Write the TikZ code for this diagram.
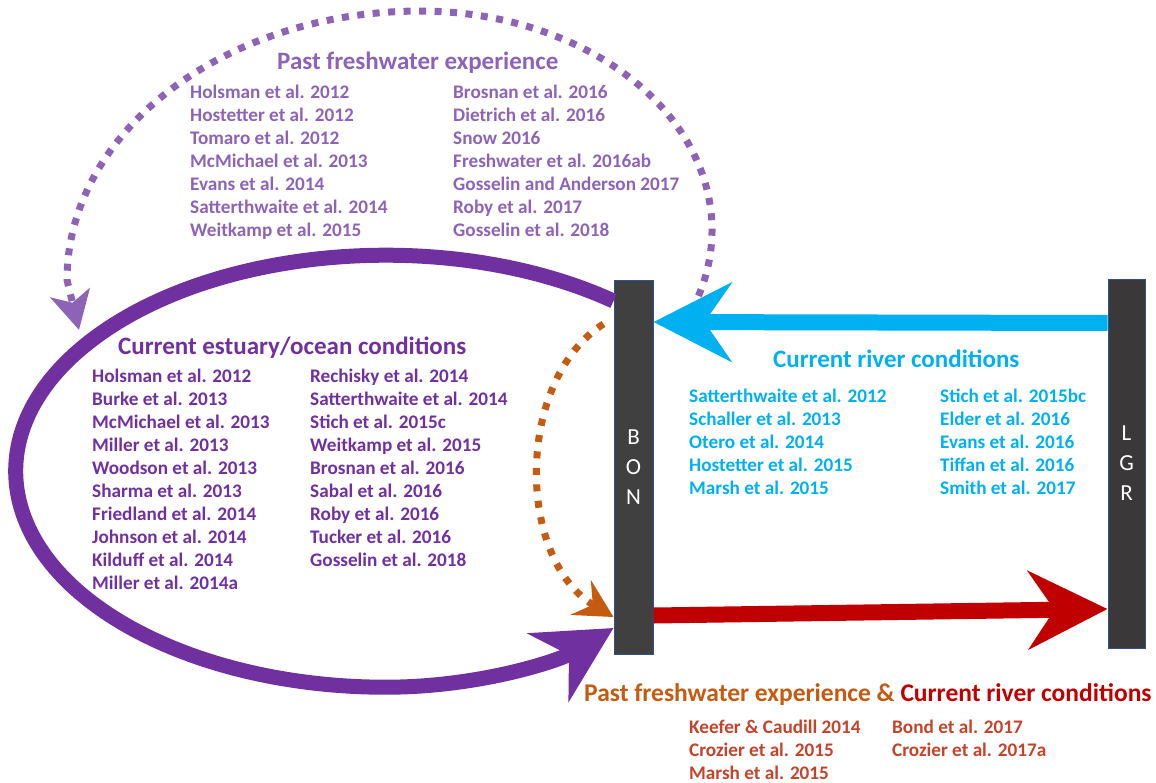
\documentclass[tikz,border=0pt]{standalone}
\usepackage{fontspec}
\setmainfont{Carlito}
\usepackage{tikz}
\usetikzlibrary{arrows.meta}
\definecolor{pastpurple}{HTML}{8D63B7}
\definecolor{seapurple}{HTML}{7030A0}
\definecolor{riverblue}{HTML}{00B0F0}
\definecolor{pastorange}{HTML}{C55A11}
\definecolor{riverred}{HTML}{C00000}
\definecolor{bothred}{HTML}{C4432A}
\definecolor{damgray}{HTML}{404040}
\definecolor{lgrgray}{HTML}{3A3838}
\definecolor{damedge}{HTML}{2F528F}
\def\reffont{\fontsize{19.2}{23}\selectfont\bfseries}
\def\headfont{\fontsize{25}{30}\selectfont\bfseries}
\def\damfont{\fontsize{23}{30}\selectfont}
\tikzstyle{dam}=[rectangle,draw=damedge,fill=damgray,line width=1pt,text=white,align=center,inner sep=0pt,font=\damfont]
\tikzstyle{reflist}=[anchor=north west,align=left,inner sep=0pt,font=\reffont]
\tikzstyle{heading}=[anchor=base west,inner sep=0pt,font=\headfont]
\tikzstyle{pastdots}=[draw=pastpurple,line width=7pt,dash pattern=on 7pt off 8.5pt,-{Stealth[length=38pt,width=40pt,inset=10pt]}]
\tikzstyle{pastarrow}=[draw=pastorange,line width=7pt,dash pattern=on 7pt off 9.5pt,-{Stealth[length=38pt,width=40pt,inset=14pt]}]

\begin{document}
\begin{tikzpicture}[x=1pt,y=1pt]
\useasboundingbox (0,0) rectangle (1156,-782);
% the two dams
\node[dam,minimum width=39pt,minimum height=374pt] (bon) at (633.5,-467) {B\\O\\N};
\node[dam,fill=lgrgray,minimum width=37pt,minimum height=369pt] (lgr) at (1126.5,-463.5) {L\\G\\R};
% loose ends of the dotted loop
\coordinate (pastfrom) at (698.5,-295.9);
\coordinate (pasttip) at (79,-330);
\draw[pastdots] (pastfrom) arc[start angle=-17.5,end angle=90,x radius=292,y radius=219]
  arc[start angle=90,end angle=180,x radius=353,y radius=269] -- (pasttip);
\draw[draw=seapurple,line width=15pt,-{Stealth[length=76pt,width=79pt,inset=24pt]}]
  ([yshift=166pt]bon.west) arc[start angle=52,end angle=270,x radius=370,y radius=216]
  .. controls +(95,0) and +(-53,-32) .. ([yshift=-161pt]bon.west);
\draw[pastarrow] ([xshift=-10pt,yshift=143pt]bon.west) .. controls +(-88,-56) and +(-98,58) .. ([yshift=-150pt]bon.west);
\draw[draw=riverblue,line width=16pt,-{Stealth[length=78pt,width=79pt,inset=27pt]}]
  ([yshift=140.5pt]lgr.west) -- ([yshift=145pt]bon.east);
\draw[draw=riverred,line width=16pt,-{Stealth[length=79pt,width=78pt,inset=26pt]}]
  ([yshift=-148.5pt]bon.east) -- ([yshift=-145.5pt]lgr.west);

% past freshwater experience
\node[heading,text=pastpurple] (pasthead) at (277,-69) {Past freshwater experience};
\node[reflist,text=pastpurple] (pastleft) at (190,-82.2) {\strut Holsman et al. 2012\\Hostetter et al. 2012\\Tomaro et al. 2012\\McMichael et al. 2013\\Evans et al. 2014\\Satterthwaite et al. 2014\\Weitkamp et al. 2015};
\node[reflist,text=pastpurple] (pastright) at (453,-82.2) {\strut Brosnan et al. 2016\\Dietrich et al. 2016\\Snow 2016\\Freshwater et al. 2016ab\\Gosselin and Anderson 2017\\Roby et al. 2017\\Gosselin et al. 2018};
% current estuary/ocean conditions
\node[heading,text=seapurple] (seahead) at (118,-354) {Current estuary/ocean conditions};
\node[reflist,text=seapurple] (sealeft) at (92,-365.9) {\strut Holsman et al. 2012\\Burke et al. 2013\\McMichael et al. 2013\\Miller et al. 2013\\Woodson et al. 2013\\Sharma et al. 2013\\Friedland et al. 2014\\Johnson et al. 2014\\Kilduff et al. 2014\\Miller et al. 2014a};
\node[reflist,text=seapurple] (searight) at (310,-365.9) {\strut Rechisky et al. 2014\\Satterthwaite et al. 2014\\Stich et al. 2015c\\Weitkamp et al. 2015\\Brosnan et al. 2016\\Sabal et al. 2016\\Roby et al. 2016\\Tucker et al. 2016\\Gosselin et al. 2018};
% current river conditions
\node[heading,text=riverblue] (riverhead) at (773,-367) {Current river conditions};
\node[reflist,text=riverblue] (riverleft) at (689,-385.9) {\strut Satterthwaite et al. 2012\\Schaller et al. 2013\\Otero et al. 2014\\Hostetter et al. 2015\\Marsh et al. 2015};
\node[reflist,text=riverblue] (riverright) at (940,-385.9) {\strut Stich et al. 2015bc\\Elder et al. 2016\\Evans et al. 2016\\Tiffan et al. 2016\\Smith et al. 2017};
% both together
\node[heading,font=\fontsize{25.5}{30}\selectfont\bfseries] (bothhead) at (584,-701) {\textcolor{pastorange}{Past freshwater experience \&} \textcolor{riverred}{Current river conditions}};
\node[reflist,text=bothred] (bothleft) at (689,-716.9) {\strut Keefer \& Caudill 2014\\Crozier et al. 2015\\Marsh et al. 2015};
\node[reflist,text=bothred] (bothright) at (892,-716.9) {\strut Bond et al. 2017\\Crozier et al. 2017a};
\end{tikzpicture}
\end{document}
